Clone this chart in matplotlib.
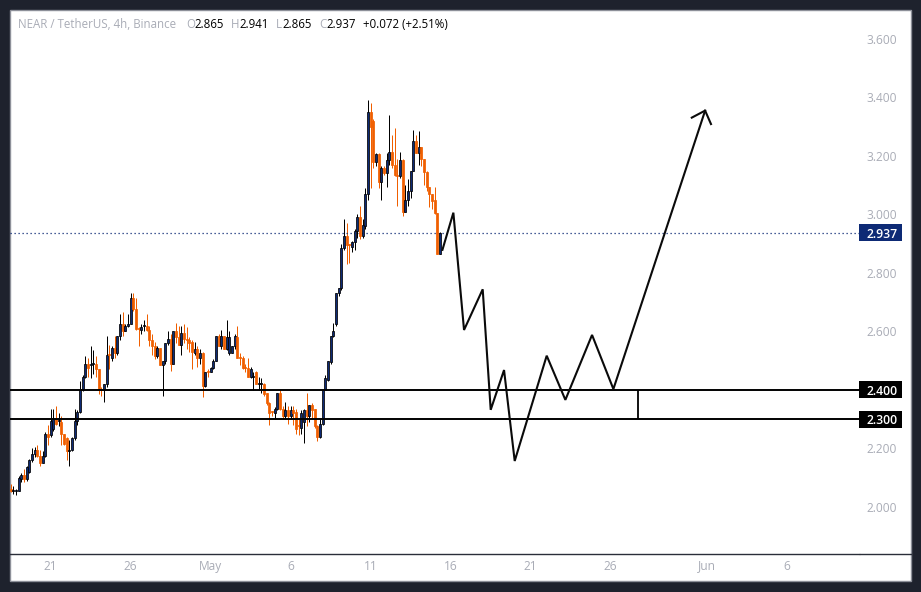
import matplotlib
matplotlib.use("Agg")
import matplotlib.pyplot as plt
from matplotlib.lines import Line2D
from matplotlib.patches import Rectangle
from matplotlib.transforms import blended_transform_factory

plt.rcParams['font.family'] = ['Open Sans', 'DejaVu Sans']

# 4h candles, one row = 10 bars
opens = [
    2.06, 2.055, 2.055, 2.055, 2.096, 2.11, 2.095, 2.12, 2.16, 2.18,
    2.195, 2.175, 2.15, 2.175, 2.25, 2.245, 2.265, 2.30, 2.295, 2.29,
    2.25, 2.235, 2.19, 2.195, 2.235, 2.295, 2.325, 2.40, 2.445, 2.49,
    2.485, 2.49, 2.49, 2.47, 2.402, 2.40, 2.42, 2.522, 2.51, 2.545,
    2.525, 2.585, 2.625, 2.60, 2.62, 2.625, 2.715, 2.675, 2.612, 2.605,
    2.618, 2.62, 2.605, 2.57, 2.55, 2.515, 2.545, 2.485, 2.50, 2.56,
    2.575, 2.49, 2.60, 2.58, 2.555, 2.595, 2.575, 2.57, 2.565, 2.525,
    2.54, 2.51, 2.525, 2.415, 2.462, 2.46, 2.475, 2.50, 2.585, 2.55,
    2.585, 2.54, 2.525, 2.525, 2.55, 2.58, 2.512, 2.51, 2.478, 2.475,
    2.445, 2.445, 2.46, 2.42, 2.42, 2.42, 2.39, 2.355, 2.327, 2.32,
    2.335, 2.39, 2.335, 2.31, 2.33, 2.31, 2.33, 2.325, 2.28, 2.27,
    2.29, 2.33, 2.31, 2.35, 2.335, 2.275, 2.24, 2.285, 2.40, 2.435,
    2.495, 2.585, 2.625, 2.73, 2.75, 2.885, 2.925, 2.897, 2.89, 2.905,
    2.945, 2.99, 2.925, 2.96, 3.07, 3.35, 3.32, 3.18, 3.205, 3.11,
    3.16, 3.14, 3.185, 3.215, 3.17, 3.135, 3.13, 3.185, 3.01, 3.05,
    3.08, 3.15, 3.25, 3.21, 3.23, 3.19, 3.145, 3.095, 3.07, 3.05,
    3.005, 2.865,
]
highs = [
    2.08, 2.07, 2.06, 2.105, 2.115, 2.13, 2.14, 2.165, 2.20, 2.205,
    2.21, 2.195, 2.19, 2.255, 2.28, 2.335, 2.335, 2.345, 2.32, 2.31,
    2.25, 2.24, 2.23, 2.24, 2.335, 2.33, 2.43, 2.45, 2.515, 2.51,
    2.55, 2.535, 2.515, 2.47, 2.41, 2.42, 2.585, 2.555, 2.55, 2.585,
    2.585, 2.66, 2.665, 2.625, 2.66, 2.73, 2.73, 2.715, 2.615, 2.625,
    2.64, 2.66, 2.62, 2.59, 2.565, 2.55, 2.545, 2.50, 2.56, 2.60,
    2.59, 2.60, 2.63, 2.62, 2.62, 2.625, 2.615, 2.58, 2.57, 2.565,
    2.55, 2.54, 2.53, 2.46, 2.47, 2.48, 2.505, 2.585, 2.59, 2.605,
    2.585, 2.64, 2.60, 2.55, 2.59, 2.62, 2.525, 2.515, 2.49, 2.51,
    2.48, 2.46, 2.465, 2.445, 2.44, 2.425, 2.39, 2.36, 2.327, 2.34,
    2.39, 2.40, 2.345, 2.36, 2.345, 2.345, 2.345, 2.335, 2.30, 2.33,
    2.335, 2.39, 2.35, 2.355, 2.335, 2.28, 2.30, 2.40, 2.45, 2.50,
    2.585, 2.63, 2.73, 2.75, 2.90, 2.985, 2.97, 2.90, 2.91, 2.95,
    3.00, 3.03, 2.985, 3.09, 3.39, 3.38, 3.325, 3.21, 3.21, 3.165,
    3.165, 3.21, 3.34, 3.27, 3.295, 3.19, 3.215, 3.19, 3.10, 3.12,
    3.15, 3.29, 3.27, 3.285, 3.23, 3.19, 3.15, 3.095, 3.07, 3.095,
    3.005, 2.941,
]
lows = [
    2.05, 2.045, 2.04, 2.055, 2.085, 2.085, 2.09, 2.115, 2.155, 2.17,
    2.17, 2.14, 2.15, 2.17, 2.21, 2.24, 2.26, 2.28, 2.275, 2.21,
    2.21, 2.16, 2.14, 2.19, 2.23, 2.28, 2.32, 2.395, 2.44, 2.445,
    2.44, 2.455, 2.445, 2.385, 2.38, 2.36, 2.41, 2.47, 2.50, 2.51,
    2.52, 2.57, 2.585, 2.60, 2.615, 2.625, 2.67, 2.605, 2.55, 2.59,
    2.60, 2.60, 2.55, 2.52, 2.505, 2.51, 2.485, 2.38, 2.49, 2.555,
    2.465, 2.49, 2.56, 2.555, 2.52, 2.56, 2.54, 2.53, 2.47, 2.52,
    2.48, 2.49, 2.375, 2.41, 2.445, 2.46, 2.47, 2.50, 2.55, 2.54,
    2.54, 2.535, 2.52, 2.525, 2.54, 2.51, 2.485, 2.47, 2.46, 2.445,
    2.44, 2.40, 2.42, 2.40, 2.39, 2.38, 2.35, 2.28, 2.31, 2.30,
    2.33, 2.33, 2.30, 2.30, 2.285, 2.30, 2.28, 2.25, 2.245, 2.25,
    2.22, 2.275, 2.29, 2.30, 2.27, 2.225, 2.235, 2.28, 2.40, 2.43,
    2.49, 2.58, 2.62, 2.72, 2.74, 2.88, 2.83, 2.835, 2.87, 2.88,
    2.92, 2.915, 2.92, 2.95, 3.05, 3.09, 3.16, 3.165, 3.09, 3.05,
    3.135, 3.095, 3.17, 3.16, 3.13, 3.03, 3.125, 2.995, 3.01, 3.03,
    3.055, 3.15, 3.21, 3.17, 3.165, 3.10, 3.08, 3.025, 3.02, 3.00,
    2.865, 2.865,
]
closes = [
    2.055, 2.055, 2.055, 2.10, 2.11, 2.095, 2.135, 2.16, 2.18, 2.195,
    2.175, 2.15, 2.175, 2.25, 2.24, 2.295, 2.30, 2.285, 2.296, 2.25,
    2.215, 2.19, 2.195, 2.235, 2.295, 2.325, 2.40, 2.445, 2.49, 2.475,
    2.49, 2.492, 2.47, 2.40, 2.40, 2.42, 2.52, 2.52, 2.545, 2.525,
    2.585, 2.625, 2.60, 2.62, 2.625, 2.715, 2.675, 2.61, 2.61, 2.615,
    2.62, 2.605, 2.57, 2.55, 2.515, 2.545, 2.485, 2.50, 2.56, 2.575,
    2.49, 2.60, 2.58, 2.555, 2.595, 2.575, 2.57, 2.56, 2.53, 2.54,
    2.51, 2.525, 2.415, 2.46, 2.46, 2.475, 2.50, 2.585, 2.55, 2.585,
    2.54, 2.58, 2.58, 2.55, 2.585, 2.51, 2.51, 2.475, 2.475, 2.445,
    2.47, 2.447, 2.42, 2.422, 2.422, 2.385, 2.355, 2.32, 2.325, 2.335,
    2.39, 2.335, 2.31, 2.33, 2.31, 2.33, 2.32, 2.265, 2.275, 2.32,
    2.33, 2.31, 2.35, 2.33, 2.275, 2.24, 2.285, 2.40, 2.44, 2.50,
    2.585, 2.60, 2.73, 2.75, 2.885, 2.925, 2.895, 2.895, 2.905, 2.945,
    2.99, 2.925, 2.965, 3.07, 3.35, 3.30, 3.18, 3.205, 3.11, 3.16,
    3.14, 3.185, 3.215, 3.17, 3.135, 3.13, 3.185, 3.01, 3.05, 3.08,
    3.15, 3.25, 3.21, 3.23, 3.19, 3.145, 3.095, 3.07, 3.045, 3.005,
    2.865, 2.937,
]

# hand drawn projection, in bar numbers and prices
path_bars = [161.9, 166, 170, 177, 180, 185, 189, 201, 208, 218, 226, 260.4]
path_prices = [2.879, 3.006, 2.605, 2.744, 2.332, 2.468, 2.157, 2.517, 2.366, 2.588, 2.403, 3.355]
head_bars = [255.4, 260.4, 262.6]
head_prices = [3.331, 3.355, 3.309]
range_bar = 235.2
support_levels = [2.4, 2.3]
last_price = 2.937

price_ticks = [3.6, 3.4, 3.2, 3.0, 2.8, 2.6, 2.2, 2.0]
date_bars = [15, 45, 75, 105, 135, 165, 195, 225, 261, 291]
date_labels = ['21', '26', 'May', '6', '11', '16', '21', '26', 'Jun', '6']

BG = '#1e222d'
NAVY = '#0d2a75'
ORANGE = '#f05f00'
GREY = '#a9acb6'
W, H = 921, 592

fig = plt.figure(figsize=(W / 100, H / 100), dpi=100, facecolor=BG)

# white panel behind everything
fig.add_artist(Rectangle((10 / W, 1 - 581 / H), 901 / W, 571 / H, transform=fig.transFigure,
                         facecolor='white', edgecolor='#8d9099', linewidth=1, zorder=-1))

ax = fig.add_axes([10 / W, 1 - 554 / H, 849 / W, 544 / H], facecolor='none')
ax.set_xlim(-0.25, 318.1)
ax.set_ylim(1.839, 3.699)

for i in range(len(opens)):
    up = closes[i] >= opens[i]
    wick = 'black' if up else ORANGE
    ax.vlines(i, lows[i], highs[i], color=wick, linewidth=0.72, zorder=2)
    bottom = min(opens[i], closes[i])
    height = max(abs(closes[i] - opens[i]), 0.003)
    ax.bar(i, height, bottom=bottom, width=0.75, facecolor=NAVY if up else ORANGE,
           edgecolor=wick, linewidth=0.55, zorder=3)

ax.axhline(last_price, color=NAVY, linewidth=0.9, linestyle=(0, (1, 2.2)), zorder=2)
for level in support_levels:
    ax.axhline(level, color='black', linewidth=1.4, zorder=4)
ax.plot(path_bars, path_prices, color='#0a0a0a', linewidth=1.5, zorder=5, solid_joinstyle='miter')
ax.plot(head_bars, head_prices, color='#0a0a0a', linewidth=1.5, zorder=5)
ax.vlines(range_bar, support_levels[1], support_levels[0], color='black', linewidth=1.3, zorder=4)

ax.set_xticks(date_bars)
ax.set_xticklabels(date_labels)
ax.yaxis.tick_right()
ax.set_yticks(price_ticks)
ax.set_yticklabels(['%.3f' % p for p in price_ticks])
ax.tick_params(axis='x', length=0, pad=4, labelsize=8.6, labelcolor=GREY)
ax.tick_params(axis='y', length=0, pad=5.5, labelsize=8.6, labelcolor=GREY)
for side in ['top', 'left', 'right']:
    ax.spines[side].set_visible(False)
ax.spines['bottom'].set_color('#2a2e39')
ax.spines['bottom'].set_linewidth(1)
fig.add_artist(Line2D([860 / W, 911 / W], [1 - 554 / H, 1 - 554 / H], color='#2a2e39', linewidth=1))

# price labels on the scale
label_trans = blended_transform_factory(fig.transFigure, ax.transData)
for price, color in [(last_price, NAVY), (support_levels[0], 'black'), (support_levels[1], 'black')]:
    ax.add_patch(Rectangle((859 / W, price - 0.029), 43 / W, 0.058, transform=label_trans,
                           facecolor=color, edgecolor='none', clip_on=False, zorder=6))
    ax.text(866 / W, price, '%.3f' % price, transform=label_trans, color='white', fontsize=8.8,
            fontweight='semibold', ha='left', va='center_baseline', zorder=7)

# header line, pieces placed one after the other
header = [
    (18, 'NEAR / TetherUS, 4h, Binance', GREY), (186, 'O', GREY), (194, '2.865', 'black'),
    (231, 'H', GREY), (239, '2.941', 'black'), (276, 'L', GREY), (282, '2.865', 'black'),
    (319, 'C', GREY), (326, '2.937', 'black'), (363, '+0.072 (+2.51%)', 'black'),
]
for x, s, color in header:
    fig.text(x / W, 1 - 25 / H, s, color=color, fontsize=8.3, ha='left', va='center')

fig.savefig('out.png', dpi=100, facecolor=BG)
